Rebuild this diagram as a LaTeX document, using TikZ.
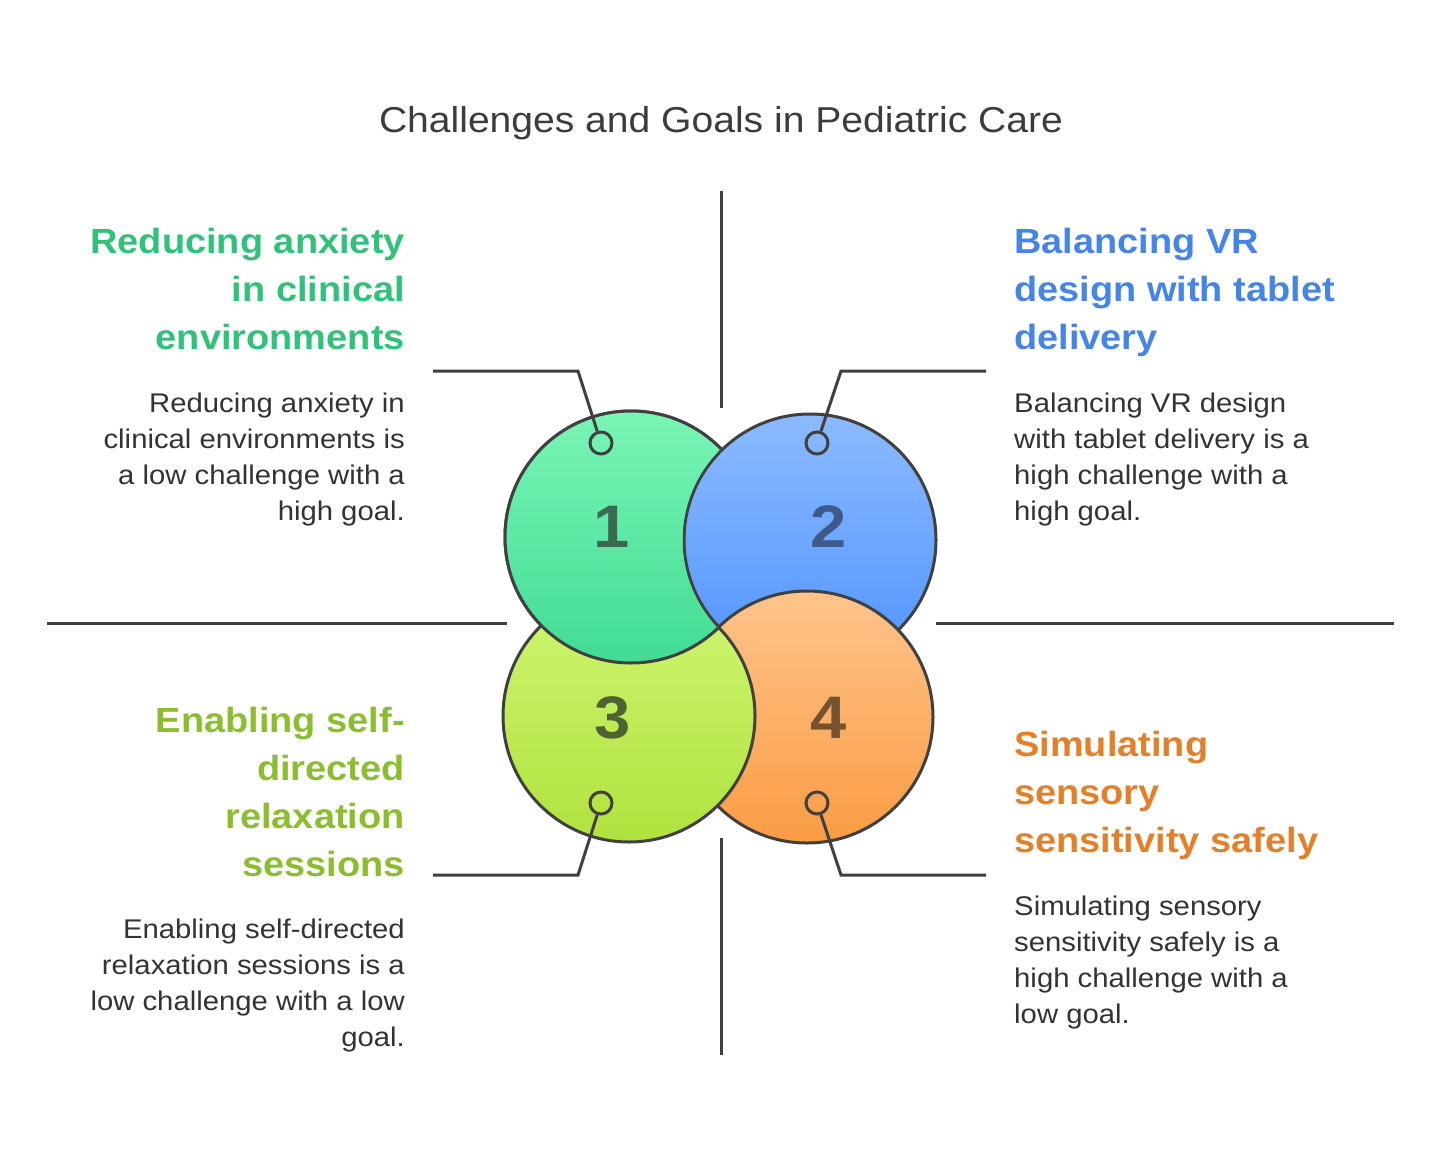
\documentclass[tikz,border=0pt]{standalone}
\usepackage{fontspec}
\setmainfont{Liberation Sans}[FakeStretch=1.085]
\usetikzlibrary{positioning}

\definecolor{edgegray}{RGB}{64,64,64}
\definecolor{textgray}{RGB}{51,51,51}
\definecolor{titlegray}{RGB}{60,60,60}
\definecolor{headA}{RGB}{50,192,122}
\definecolor{headB}{RGB}{70,133,228}
\definecolor{headC}{RGB}{140,188,48}
\definecolor{headD}{RGB}{226,128,44}
\definecolor{topA}{RGB}{122,245,182}
\definecolor{botA}{RGB}{66,220,148}
\definecolor{topB}{RGB}{140,186,255}
\definecolor{botB}{RGB}{80,148,255}
\definecolor{topC}{RGB}{208,246,115}
\definecolor{botC}{RGB}{176,226,62}
\definecolor{topD}{RGB}{255,196,140}
\definecolor{botD}{RGB}{250,156,68}
\definecolor{numA}{RGB}{58,107,82}
\definecolor{numB}{RGB}{61,90,138}
\definecolor{numC}{RGB}{79,99,50}
\definecolor{numD}{RGB}{117,83,47}

\begin{document}
\begin{tikzpicture}[x=1pt,y=-1pt,inner sep=0pt,
  bubble/.style={circle,draw=edgegray,line width=3pt,minimum size=252pt},
  ring/.style={circle,draw=edgegray,line width=3pt,minimum size=22pt},
  link/.style={draw=edgegray,line width=3pt},
  axis/.style={draw=edgegray,line width=3pt},
  title/.style={font=\fontsize{36}{44}\selectfont,text=titlegray},
  head/.style={font=\fontsize{35}{48}\selectfont\bfseries},
  body/.style={font=\fontsize{27}{36}\selectfont,text=textgray},
  num/.style={font=\fontsize{60}{60}\selectfont\bfseries}]
\useasboundingbox (0,0) rectangle (1441,1151);

\node[title,anchor=base] (title) at (721,132) {Challenges and Goals in Pediatric Care};

% quadrant axes
\coordinate (vt1) at (721,191);
\coordinate (vt2) at (721,408);
\coordinate (vb1) at (721,838);
\coordinate (vb2) at (721,1055);
\coordinate (hl1) at (47,623);
\coordinate (hl2) at (507,623);
\coordinate (hr1) at (936,623);
\coordinate (hr2) at (1394,623);
\path (vt1) edge[axis] (vt2);
\path (vb1) edge[axis] (vb2);
\path (hl1) edge[axis] (hl2);
\path (hr1) edge[axis] (hr2);

% circles
\node[bubble,top color=topA,bottom color=botA] (c1) at (631,537) {};
\node[bubble,top color=topB,bottom color=botB] (c2) at (810,540) {};
\node[bubble,top color=topD,bottom color=botD] (c4) at (807,717) {};
\node[bubble,top color=topC,bottom color=botC] (c3) at (629,716) {};
\begin{scope}[even odd rule]
\clip (0,0) rectangle (1441,1151) (c2.center) circle[radius=127.5pt];
\draw[edgegray,line width=3pt,top color=topA,bottom color=botA] (c1.center) circle[radius=126pt];
\end{scope}

\node[num,text=numA] (n1) at (612,527) {1};
\node[num,text=numB] (n2) at (829,527) {2};
\node[num,text=numC] (n3) at (613,718) {3};
\node[num,text=numD] (n4) at (829,718) {4};

% connectors
\node[ring] (r1) at (601,443) {};
\node[ring] (r2) at (817,443) {};
\node[ring] (r3) at (601,803) {};
\node[ring] (r4) at (817,803) {};
\coordinate (k1) at (578,371);
\coordinate (e1) at (433,371);
\coordinate (k2) at (841,371);
\coordinate (e2) at (986,371);
\coordinate (k3) at (578,875);
\coordinate (e3) at (433,875);
\coordinate (k4) at (841,875);
\coordinate (e4) at (986,875);
\draw[link] (r1) -- (k1) -- (e1);
\draw[link] (r2) -- (k2) -- (e2);
\draw[link] (r3) -- (k3) -- (e3);
\draw[link] (r4) -- (k4) -- (e4);

% texts (base = last line)
\node[head,text=headA,align=right,anchor=base east] (h1) at (405,349) {Reducing anxiety\\in clinical\\environments};
\node[body,align=right,anchor=base east] (b1) at (405,520) {Reducing anxiety in\\clinical environments is\\a low challenge with a\\high goal.};
\node[head,text=headB,align=left,anchor=base west] (h2) at (1014,349) {Balancing VR\\design with tablet\\delivery};
\node[body,align=left,anchor=base west] (b2) at (1014,520) {Balancing VR design\\with tablet delivery is a\\high challenge with a\\high goal.};
\node[head,text=headC,align=right,anchor=base east] (h3) at (405,876) {Enabling self-\\directed\\relaxation\\sessions};
\node[body,align=right,anchor=base east] (b3) at (405,1046) {Enabling self-directed\\relaxation sessions is a\\low challenge with a low\\goal.};
\node[head,text=headD,align=left,anchor=base west] (h4) at (1014,852) {Simulating\\sensory\\sensitivity safely};
\node[body,align=left,anchor=base west] (b4) at (1014,1023) {Simulating sensory\\sensitivity safely is a\\high challenge with a\\low goal.};
\end{tikzpicture}
\end{document}
